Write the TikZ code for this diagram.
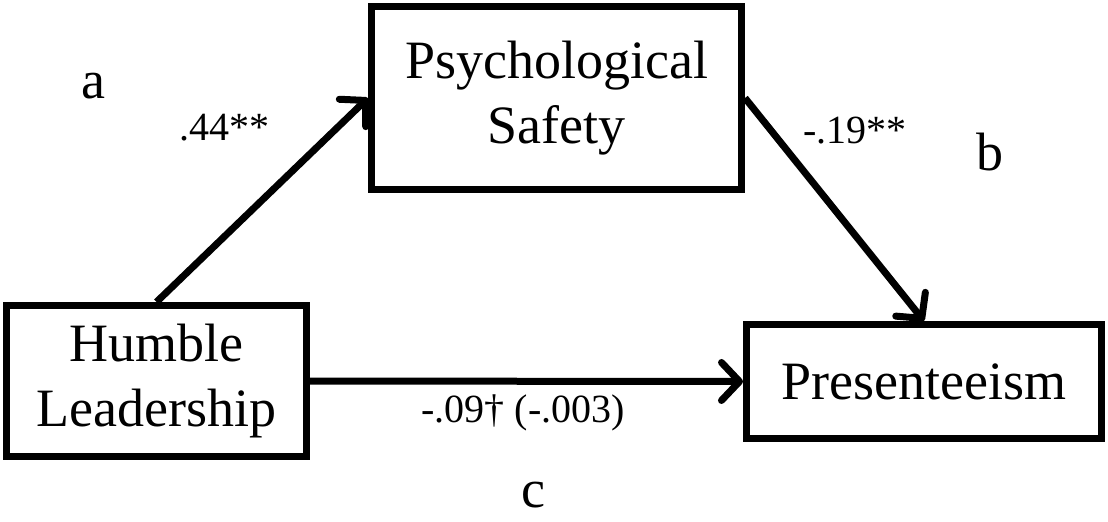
\documentclass[tikz,border=0pt]{standalone}
\usepackage{fontspec}
\setmainfont{Liberation Serif}
\usepackage{tikz}
\usetikzlibrary{positioning,arrows.meta}

\begin{document}
\begin{tikzpicture}[x=0.5pt,y=-0.5pt,>={Straight Barb[length=9pt,width=19pt,line cap=round,line join=round]},
  varbox/.style={draw,line width=3.5pt,align=center,inner sep=0pt,font=\fontsize{27}{32.5}\selectfont},
  coef/.style={font=\fontsize{20}{24}\selectfont},
  pathlbl/.style={inner sep=1pt,font=\fontsize{27}{32}\selectfont},
  path/.style={->,line width=3.5pt}]
% ---- canvas ----
\useasboundingbox (0,0) rectangle (1108,521);
% ---- variables ----
\node[varbox,minimum width=150pt,minimum height=75.5pt] (hl) at (156.5,381) {Humble\\Leadership};
\node[varbox,minimum width=185pt,minimum height=91.5pt] (ps) at (556.5,98) {Psychological\\Safety};
\node[varbox,minimum width=177.5pt,minimum height=57pt] (pr) at (924,381.5) {Presenteeism};
% ---- paths ----
\draw[path] (hl.north) -- (ps.west);
\draw[path] (ps.east) -- (pr.north);
\draw[path] (hl.east) -- (pr.west);
% ---- coefficients ----
\node[coef] (ca) at (224,128) {.44**};
\node[coef] (cb) at (855,131) {-.19**};
\node[coef] (cc) at (523,413) {-.09† (-.003)};
% ---- path letters ----
\node[pathlbl] (la) at (93,86) {a};
\node[pathlbl] (lb) at (990,152) {b};
\node[pathlbl] (lc) at (533,495) {c};
\end{tikzpicture}
\end{document}
